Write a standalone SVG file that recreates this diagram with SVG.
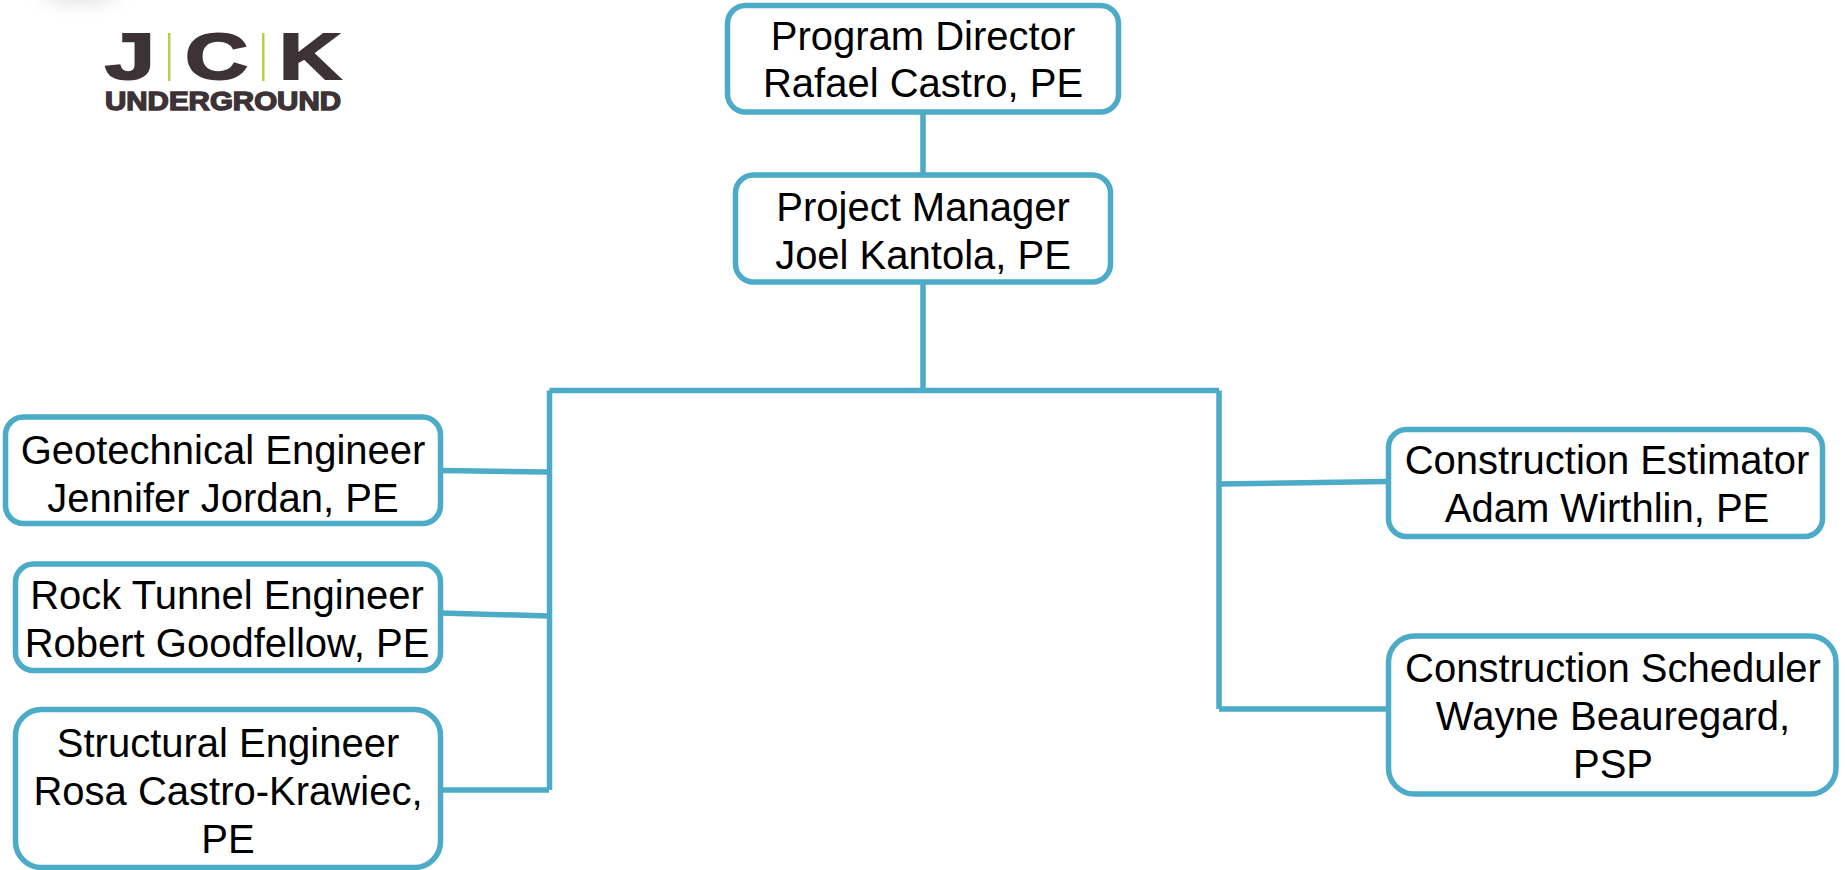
<svg xmlns="http://www.w3.org/2000/svg" width="1845" height="870" viewBox="0 0 1845 870">
<style>
.box{fill:#fff;stroke:#4cabc6;stroke-width:5.500}
.c{fill:none;stroke:#4cabc6;stroke-width:5.500}
text{font-family:"Liberation Sans",Arial,sans-serif;font-size:40px;fill:#000;text-anchor:middle}
.logo{font-weight:bold;fill:#3d3337;stroke:#3d3337;text-anchor:start}
</style>
<defs><filter id="blur" x="-50%" y="-100%" width="200%" height="300%"><feGaussianBlur stdDeviation="8"/></filter></defs>
<rect width="1845" height="870" fill="#fff"/>
<ellipse cx="80" cy="-4" rx="40" ry="8" fill="#e4e4e4" filter="url(#blur)"/>
<g id="logo">
<text class="logo" x="105" y="79" textLength="50" lengthAdjust="spacingAndGlyphs" style="font-size:65px;stroke-width:2">J</text>
<text class="logo" x="185" y="79" textLength="63" lengthAdjust="spacingAndGlyphs" style="font-size:65px;stroke-width:2">C</text>
<text class="logo" x="279" y="79" textLength="62" lengthAdjust="spacingAndGlyphs" style="font-size:65px;stroke-width:2">K</text>
<rect x="168" y="33" width="2.500" height="48" fill="#b5cf4a"/>
<rect x="262" y="33" width="2.500" height="48" fill="#b5cf4a"/>
<text class="logo" x="105" y="110" textLength="236" lengthAdjust="spacingAndGlyphs" style="font-size:26px;stroke-width:1.400">UNDERGROUND</text>
</g>
<g id="connectors">
<path class="c" d="M923 112V174M923 282V390.500M549.500 390.500H1219M549.500 390.500V790M1219 390.500V709"/>
<path class="c" d="M441 470.500L549 472M441 613L549 616M441 790H549M1219 484L1387 481.500M1219 709H1387"/>
</g>
<g id="program-director"><rect class="box" x="727.500" y="5.500" width="391" height="106.500" rx="18"/><text x="923" y="50">Program Director</text><text x="923" y="97">Rafael Castro, PE</text></g>
<g id="project-manager"><rect class="box" x="735.500" y="175" width="375" height="107" rx="18"/><text x="923" y="221">Project Manager</text><text x="923" y="269">Joel Kantola, PE</text></g>
<g id="geotechnical-engineer"><rect class="box" x="5.500" y="417" width="435" height="106.500" rx="18"/><text x="223" y="464">Geotechnical Engineer</text><text x="223" y="512">Jennifer Jordan, PE</text></g>
<g id="rock-tunnel-engineer"><rect class="box" x="15.500" y="564" width="425" height="106.500" rx="18"/><text x="227" y="609">Rock Tunnel Engineer</text><text x="227" y="657">Robert Goodfellow, PE</text></g>
<g id="structural-engineer"><rect class="box" x="15.500" y="709.500" width="425" height="158" rx="26"/><text x="228" y="757">Structural Engineer</text><text x="228" y="805">Rosa Castro-Krawiec,</text><text x="228" y="853">PE</text></g>
<g id="construction-estimator"><rect class="box" x="1388.500" y="429.500" width="434" height="107" rx="18"/><text x="1607" y="474">Construction Estimator</text><text x="1607" y="522">Adam Wirthlin, PE</text></g>
<g id="construction-scheduler"><rect class="box" x="1388.500" y="636" width="447.500" height="158" rx="26"/><text x="1613" y="682">Construction Scheduler</text><text x="1613" y="730">Wayne Beauregard,</text><text x="1613" y="778">PSP</text></g>
</svg>
